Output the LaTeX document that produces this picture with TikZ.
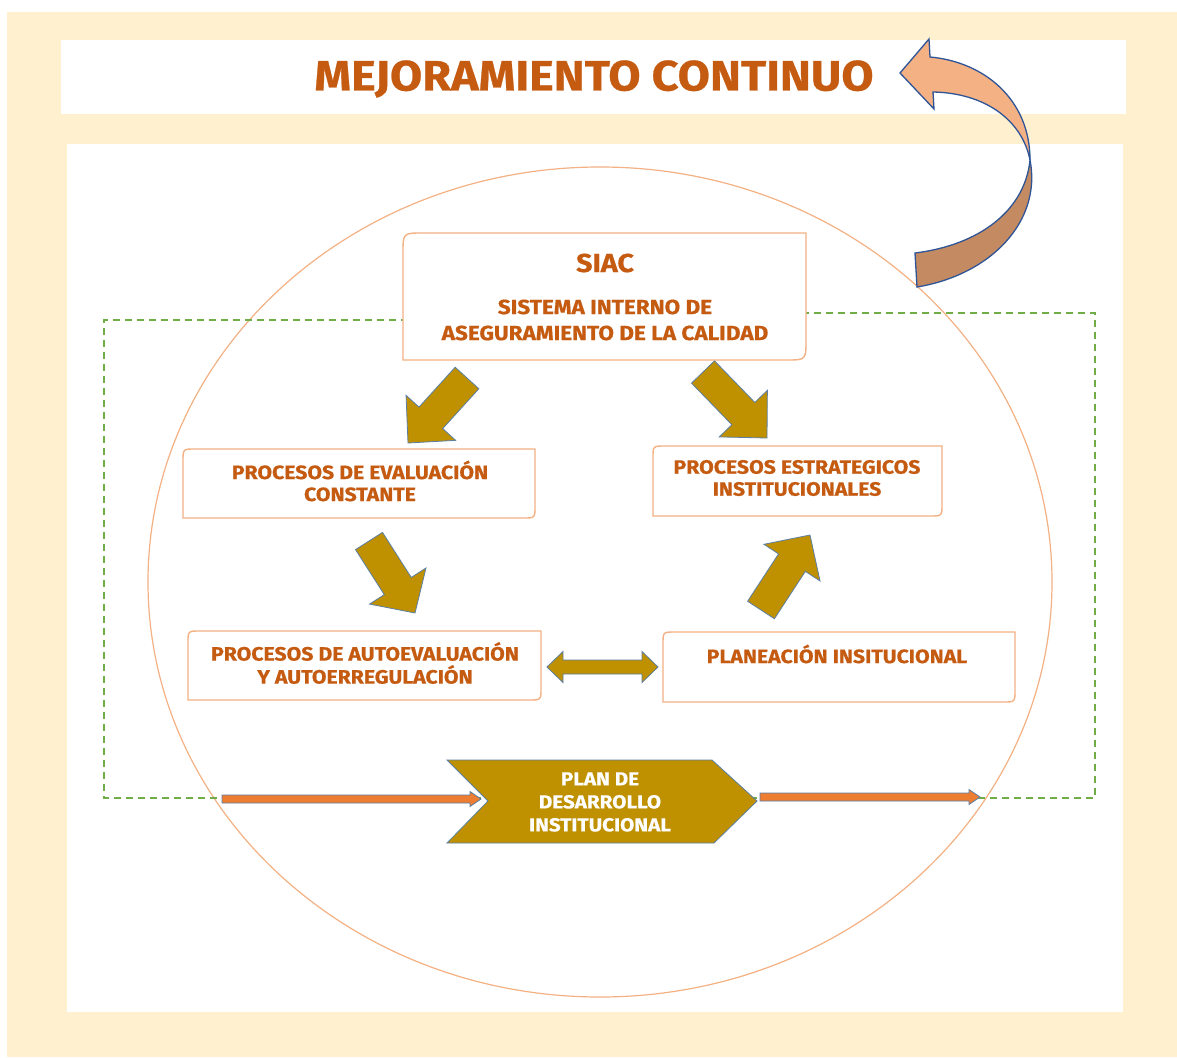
\documentclass[tikz,border=0pt]{standalone}
\usepackage{fontspec}
\setmainfont{Fira Sans}[FakeStretch=1.1,BoldFeatures={FakeBold=0.6}]
\usetikzlibrary{calc}
\definecolor{cream}{HTML}{FFF0CF}
\definecolor{peach}{HTML}{F4B183}
\definecolor{txt}{HTML}{C55A11}
\definecolor{gold}{HTML}{BF9000}
\definecolor{edgeblue}{HTML}{5B7FA6}
\definecolor{dgreen}{HTML}{70AD47}
\definecolor{arrdark}{HTML}{C48B62}
\definecolor{arrline}{HTML}{2F5597}
\definecolor{orng}{HTML}{ED7D31}
\newcommand\diagbox[6]{%
  \node[boxarea,minimum width={#4-#2},minimum height={#5-#3}] (#1) at ({(#2+#4)/2},{(#3+#5)/2}) {};
  \draw[boxline] (#2,#5) -- (#2,#3+#6) .. controls (#2,#3) .. (#2+#6,#3) -- (#4,#3) -- (#4,#5-#6) .. controls (#4,#5) .. (#4-#6,#5) -- cycle;}
\newcommand\blockarrow[6]{%
  \coordinate (bh) at ($(#2)!#5!(#1)$);
  \draw[#6] ($(#1)!#3!90:(#2)$) -- ($(bh)!#3!90:(#2)$) -- ($(bh)!#4!90:(#2)$) -- (#2) -- ($(bh)!#4!-90:(#2)$) -- ($(bh)!#3!-90:(#2)$) -- ($(#1)!#3!-90:(#2)$) -- cycle;}
\begin{document}
\begin{tikzpicture}[x=1pt,y=-1pt,
  boxline/.style={draw=peach,line width=1.4pt,fill=white},
  boxarea/.style={rectangle,inner sep=0,outer sep=0},
  lbl/.style={text=txt,font=\bfseries\fontsize{19.3}{22}\selectfont,align=center,inner sep=0},
  blockarr/.style={fill=gold,draw=edgeblue,line width=0.8pt,line join=miter},
  thinarr/.style={fill=orng,draw=edgeblue,line width=0.8pt,line join=miter},
  ]
\useasboundingbox (0,0) rectangle (1177,1057);
% background
\fill[cream] (7,12) rectangle (1177,1057);
\fill[white] (61,40) rectangle (1126,114);
\fill[white] (67,144) rectangle (1123,1012);
% title
\node[text=txt,font=\bfseries\fontsize{42.5}{50}\selectfont,inner sep=0] (title) at (594,79) {MEJORAMIENTO CONTINUO};
% big ellipse
\draw[peach,line width=1.2pt] (600,582) ellipse [x radius=452, y radius=415];
% green dashed frame
\draw[dgreen,line width=1.4pt,dash pattern=on 7pt off 5pt] (420,320) -- (104,320) -- (104,798) -- (1095,798) -- (1095,313) -- (790,313);
% curved arrow
\draw[fill=peach,draw=arrline,line width=1.3pt,line join=miter] (930,57) .. controls (985,62) and (1030,100) .. (1030,160) .. controls (1022,120) and (985,93) .. (933,92) -- (934,109) -- (900,73) -- (929,39) -- cycle;
\draw[fill=arrdark,draw=arrline,line width=1.3pt,line join=miter] (1030,160) .. controls (1042,222) and (990,275) .. (917,287) -- (915,253) .. controls (980,245) and (1025,210) .. (1030,160) -- cycle;
% boxes
\diagbox{siac}{403}{233}{806}{360}{20}
\diagbox{eval}{183}{449}{535}{518}{12}
\diagbox{estr}{653}{446}{942}{516}{12}
\diagbox{auto}{188}{631}{541}{700}{12}
\diagbox{plan}{663}{632}{1015}{702}{12}
% texts
\node[lbl,font=\bfseries\fontsize{26}{30}\selectfont] (siact) at (605,263) {SIAC};
\node[lbl,font=\bfseries\fontsize{20.5}{26}\selectfont] (siacs) at (605,320) {SISTEMA INTERNO DE\\ASEGURAMIENTO DE LA CALIDAD};
\node[lbl] (evalt) at (360,481) {PROCESOS DE EVALUACIÓN\\CONSTANTE};
\node[lbl] (estrt) at (797,478) {PROCESOS ESTRATEGICOS\\INSTITUCIONALES};
\node[lbl,font=\bfseries\fontsize{19.3}{23}\selectfont] (autot) at (365,663) {PROCESOS DE AUTOEVALUACIÓN\\Y AUTOERREGULACIÓN};
\node[lbl] (plant) at (837,654) {PLANEACIÓN INSITUCIONAL};
% block arrows
\coordinate (a1s) at (467,378); \coordinate (a1e) at (408,443);
\coordinate (a2s) at (703,372); \coordinate (a2e) at (767,438);
\coordinate (a3s) at (369,541); \coordinate (a3e) at (415,613);
\coordinate (a4s) at (761,610); \coordinate (a4e) at (810,535);
\blockarrow{a1s}{a1e}{16pt}{33.5pt}{34pt}{blockarr}
\blockarrow{a2s}{a2e}{16pt}{33.5pt}{34pt}{blockarr}
\blockarrow{a3s}{a3e}{16pt}{33.5pt}{32pt}{blockarr}
\blockarrow{a4s}{a4e}{16pt}{33.5pt}{33pt}{blockarr}
% double arrow
\coordinate (da) at (547,667); \coordinate (db) at (658,667);
\draw[blockarr] (da) -- (563,651.5) -- (563,660) -- (642,660) -- (642,651.5) -- (db) -- (642,682.5) -- (642,674) -- (563,674) -- (563,682.5) -- cycle;
% chevron
\draw[fill=gold,draw=edgeblue,line width=0.8pt,line join=miter] (447,760) -- (712,760) -- (757,801) -- (714,843) -- (447,843) -- (488,801) -- cycle;
\node[text=white,font=\bfseries\fontsize{18.8}{23}\selectfont,align=center,inner sep=0] (pdi) at (600,802) {PLAN DE\\DESARROLLO\\INSTITUCIONAL};
% thin arrows
\coordinate (t1s) at (222,799); \coordinate (t1e) at (481,799);
\coordinate (t2s) at (760,797); \coordinate (t2e) at (980,797);
\blockarrow{t1s}{t1e}{4pt}{7.5pt}{11pt}{thinarr}
\blockarrow{t2s}{t2e}{4pt}{7.5pt}{11pt}{thinarr}
\end{tikzpicture}
\end{document}
